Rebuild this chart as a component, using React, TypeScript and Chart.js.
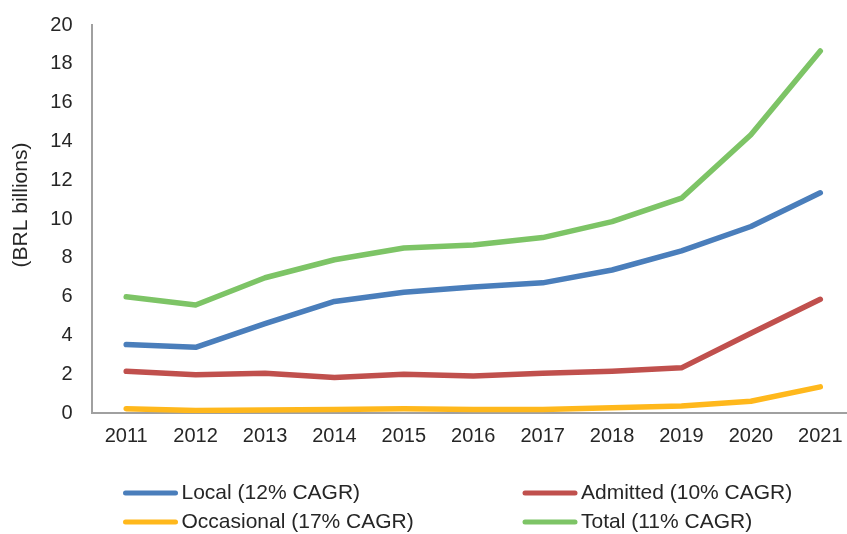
import React, { useEffect, useRef } from "react";
import { Chart, registerables } from "chart.js";

Chart.register(...registerables);

const years = ["2011", "2012", "2013", "2014", "2015", "2016", "2017", "2018", "2019", "2020", "2021"];
const localValues = [3.54, 3.4, 4.62, 5.76, 6.23, 6.5, 6.72, 7.38, 8.37, 9.62, 11.36];
const admittedValues = [2.16, 1.99, 2.06, 1.84, 2.01, 1.92, 2.06, 2.17, 2.34, 4.12, 5.87];
const occasionalValues = [0.24, 0.14, 0.17, 0.2, 0.23, 0.19, 0.2, 0.28, 0.37, 0.62, 1.36];
const totalValues = [6.0, 5.58, 6.98, 7.91, 8.51, 8.67, 9.05, 9.87, 11.08, 14.35, 18.66];
const seriesLabels = ["Local (12% CAGR)", "Admitted (10% CAGR)", "Occasional (17% CAGR)", "Total (11% CAGR)"];
const seriesColors = ["#4A7EBB", "#C0504D", "#FFB81C", "#7DC466"];
const yTitle = "(BRL billions)";

const FONT = "'Liberation Sans', Arial, sans-serif";
const TEXT = "#262626";

const yTitlePlugin = {
  id: "yTitlePlugin",
  afterDraw(chart: any) {
    const ctx = chart.ctx;
    ctx.save();
    ctx.translate(21, 205);
    ctx.rotate(-Math.PI / 2);
    ctx.font = `21px ${FONT}`;
    ctx.fillStyle = TEXT;
    ctx.textAlign = "center";
    ctx.textBaseline = "middle";
    ctx.fillText(yTitle, 0, 0);
    ctx.restore();
  },
};

const legendPlugin = {
  id: "customLegend",
  afterDraw(chart: any) {
    const ctx = chart.ctx;
    const cols = [125.5, 525];
    const rows = [493, 522];
    ctx.save();
    chart.data.datasets.forEach((ds: any, i: number) => {
      const x = cols[i % 2];
      const y = rows[Math.floor(i / 2)];
      ctx.beginPath();
      ctx.strokeStyle = ds.borderColor;
      ctx.lineWidth = 5;
      ctx.lineCap = "round";
      ctx.moveTo(x, y);
      ctx.lineTo(x + 50, y);
      ctx.stroke();
      ctx.font = `21px ${FONT}`;
      ctx.fillStyle = TEXT;
      ctx.textAlign = "left";
      ctx.textBaseline = "middle";
      ctx.fillText(ds.label, x + 56, y);
    });
    ctx.restore();
  },
};

export default function App() {
  const ref = useRef<HTMLCanvasElement | null>(null);

  useEffect(() => {
    if (!ref.current) return;
    const values = [localValues, admittedValues, occasionalValues, totalValues];
    const chart = new Chart(ref.current, {
      type: "line",
      data: {
        labels: years,
        datasets: values.map((v, i) => ({
          label: seriesLabels[i],
          data: v,
          borderColor: seriesColors[i],
          backgroundColor: seriesColors[i],
          borderWidth: 5.5,
          pointRadius: 0,
          pointHoverRadius: 0,
          tension: 0,
          borderCapStyle: "round" as const,
          borderJoinStyle: "round" as const,
          fill: false,
        })),
      },
      options: {
        animation: false,
        responsive: false,
        devicePixelRatio: 1,
        layout: { padding: { top: 25, left: 0, right: 0, bottom: 0 } },
        plugins: {
          legend: { display: false },
          tooltip: { enabled: false },
        },
        scales: {
          x: {
            type: "category",
            offset: true,
            grid: { display: false, drawTicks: false },
            border: { display: true, color: "#A0A0A0", width: 2 },
            ticks: {
              color: TEXT,
              font: { family: FONT, size: 20 },
              padding: 11,
              maxRotation: 0,
              autoSkip: false,
            },
            afterFit(scale: any) {
              scale.height = 120.7;
              scale.paddingLeft = 0;
              scale.paddingRight = 0;
            },
          },
          y: {
            min: 0,
            max: 20,
            grid: { display: false, drawTicks: false },
            border: { display: true, color: "#A0A0A0", width: 2 },
            ticks: {
              stepSize: 2,
              color: TEXT,
              font: { family: FONT, size: 20 },
              padding: 19,
            },
            afterFit(scale: any) {
              scale.width = 91.5;
              scale.paddingTop = 0;
              scale.paddingBottom = 0;
            },
          },
        },
      },
      plugins: [yTitlePlugin, legendPlugin],
    });
    return () => chart.destroy();
  }, []);

  return (
    <div
      style={{
        position: "fixed",
        left: 0,
        top: 0,
        width: 847,
        height: 534,
        overflow: "hidden",
        background: "#fff",
      }}
    >
      <canvas ref={ref} width={855} height={534} style={{ width: 855, height: 534, display: "block" }} />
    </div>
  );
}
